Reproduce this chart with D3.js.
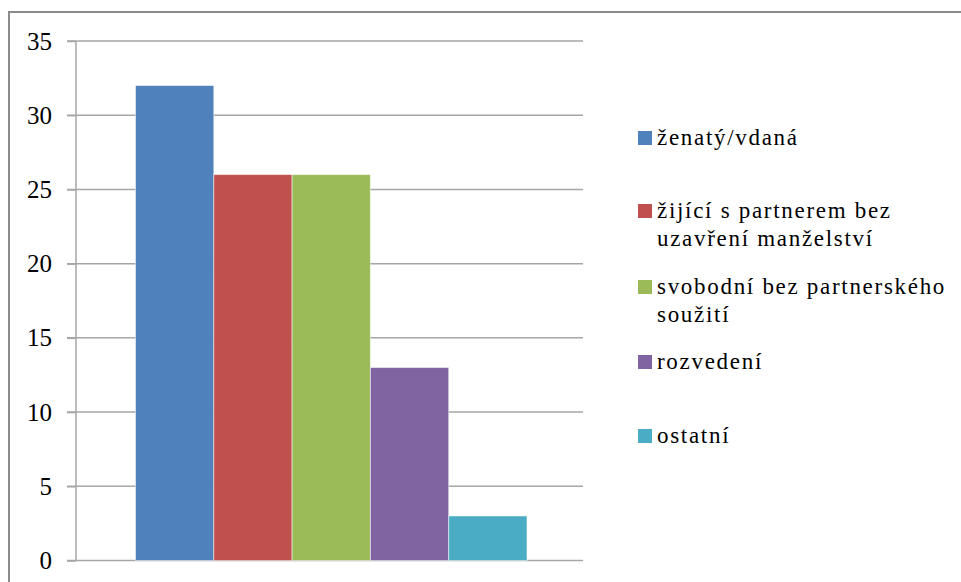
<!DOCTYPE html>
<head>
  <meta charset="utf-8">
  <style>
  body { margin: 0; background: #fff; }
  .grid line { stroke: #a6a6a6; stroke-width: 1.5; }
  .axis path, .axis line { stroke: #a6a6a6; stroke-width: 1.5; }
  </style>
</head>
<body>
  <svg id="chart"></svg>

  <script src="https://d3js.org/d3.v7.min.js"></script>
  <script>

  var categories = ['ženatý/vdaná',
                    'žijící s partnerem bez uzavření manželství',
                    'svobodní bez partnerského soužití',
                    'rozvedení',
                    'ostatní'];
  var values = [32, 26, 26, 13, 3];
  var colors = ['#4F81BD', '#C0504D', '#9BBB59', '#8064A2', '#4BACC6'];
  // legend labels, already split into lines like the original
  var legendLines = [['ženatý/vdaná'],
                     ['žijící s partnerem bez', 'uzavření manželství'],
                     ['svobodní bez partnerského', 'soužití'],
                     ['rozvedení'],
                     ['ostatní']];
  var yTicks = [0, 5, 10, 15, 20, 25, 30, 35];

  var width = 961,
      height = 582,
      serif = "'Liberation Serif', 'Times New Roman', serif";

  var svg = d3.select('#chart')
    .attr('width', width)
    .attr('height', height);

  // outer frame (only left/top visible in the crop)
  svg.append('rect')
    .attr('x', 9)
    .attr('y', 12)
    .attr('width', 980)
    .attr('height', 600)
    .attr('fill', 'none')
    .attr('stroke', '#8a8a8a')
    .attr('stroke-width', 2);

  var plot = { left: 76, right: 583, top: 41, bottom: 560.5 };

  var y = d3.scaleLinear()
    .domain([0, 35])
    .range([plot.bottom, plot.top]);

  // one category group, bars side by side with ~150% gap
  var x = d3.scaleBand()
    .domain(d3.range(values.length))
    .range([135.5, 527])
    .padding(0);

  var g = svg.append('g');

  // gridlines
  g.append('g')
    .attr('class', 'grid')
    .selectAll('line')
    .data(yTicks)
    .enter().append('line')
      .attr('x1', 67)
      .attr('x2', plot.right)
      .attr('y1', function(d) { return y(d); })
      .attr('y2', function(d) { return y(d); });

  // bars
  g.selectAll('.bar')
    .data(values)
    .enter().append('rect')
      .attr('class', 'bar')
      .attr('x', function(d, i) { return x(i); })
      .attr('y', function(d) { return y(d); })
      .attr('width', x.bandwidth())
      .attr('height', function(d) { return y(0) - y(d); })
      .attr('fill', function(d, i) { return colors[i]; })
      .attr('stroke', 'rgba(255,255,255,0.5)')
      .attr('stroke-width', 1);

  // y axis
  var yAxis = d3.axisLeft(y)
    .tickValues(yTicks)
    .tickSize(9)
    .tickPadding(15)
    .tickFormat(d3.format('d'));

  var axisG = g.append('g')
    .attr('class', 'axis')
    .attr('transform', 'translate(' + plot.left + ',0)')
    .call(yAxis);

  axisG.select('.domain').attr('d', 'M0,' + plot.top + 'V' + plot.bottom);
  axisG.selectAll('text')
    .style('font-size', '25px')
    .style('font-family', serif)
    .attr('fill', '#000');

  // legend
  var legendY = [138, 211, 287, 362, 436];
  var legend = svg.append('g');

  var item = legend.selectAll('.item')
    .data(legendLines)
    .enter().append('g')
      .attr('class', 'item')
      .attr('transform', function(d, i) { return 'translate(638,' + legendY[i] + ')'; });

  item.append('rect')
    .attr('x', 0)
    .attr('y', -7)
    .attr('width', 14)
    .attr('height', 14)
    .attr('fill', function(d, i) { return colors[i]; });

  item.each(function(lines) {
    var it = d3.select(this);
    lines.forEach(function(line, j) {
      it.append('text')
        .attr('x', 19)
        .attr('y', 7 + j * 28)
        .style('font-family', serif)
        .style('font-size', '23px')
        .style('letter-spacing', '1.7px')
        .attr('fill', '#000')
        .text(line);
    });
  });

  </script>
</body>
